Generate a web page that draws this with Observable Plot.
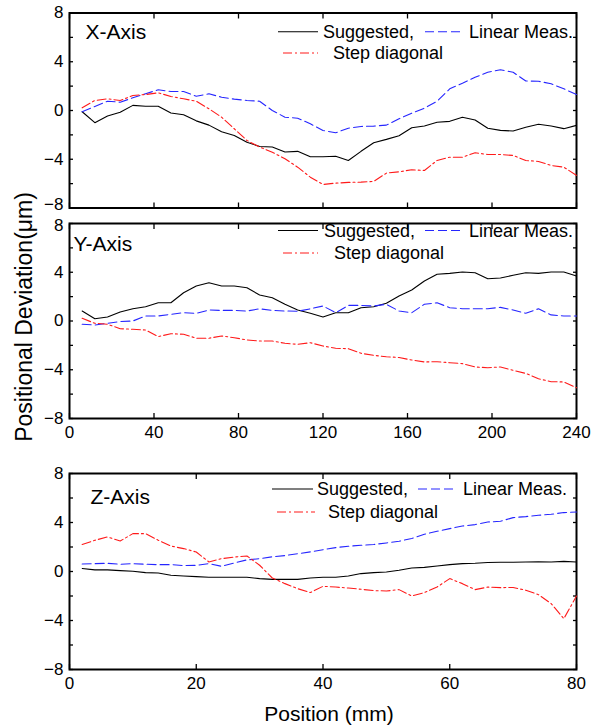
<!DOCTYPE html>
<html>
<head>
<meta charset="utf-8">
<script src="https://cdn.jsdelivr.net/npm/d3@7"></script>
<script src="https://cdn.jsdelivr.net/npm/@observablehq/plot@0.6"></script>
<style>
  html, body { margin: 0; padding: 0; background: #fff; }
  #wrap { position: relative; width: 604px; height: 727px; overflow: hidden; font-family: "Liberation Sans", Arial, sans-serif; }
</style>
</head>
<body>
<div id="wrap"></div>
<script>
// ---------- data ----------
const posXY = [6,12,18,24,30,36,42,48,54,60,66,72,78,84,90,96,102,108,114,120,126,132,138,144,150,156,162,168,174,180,186,192,198,204,210,216,222,228,234,240];
const posZ = [2,4,6,8,10,12,14,16,18,20,22,24,26,28,30,32,34,36,38,40,42,44,46,48,50,52,54,56,58,60,62,64,66,68,70,72,74,76,78,80];

const seriesNames = ["Suggested,", "Linear Meas.", "Step diagonal"];
const panelNames = ["X-Axis", "Y-Axis", "Z-Axis"];

const xSuggested = [-0.1,-1.0,-0.45,-0.15,0.42,0.35,0.35,-0.2,-0.35,-0.85,-1.2,-1.75,-2.05,-2.6,-2.95,-3.0,-3.4,-3.35,-3.8,-3.8,-3.75,-4.1,-3.35,-2.64,-2.37,-2.07,-1.41,-1.27,-0.97,-0.89,-0.56,-0.78,-1.46,-1.63,-1.68,-1.38,-1.13,-1.27,-1.49,-1.22];
const xLinear = [-0.1,0.33,0.76,0.68,1.04,1.37,1.7,1.56,1.56,1.17,1.37,1.09,0.93,0.82,0.76,0.0,-0.55,-0.63,-1.09,-1.64,-1.83,-1.45,-1.31,-1.28,-1.2,-0.68,-0.22,0.19,0.76,1.78,2.24,2.73,3.14,3.34,3.14,2.42,2.4,2.19,1.78,1.31];
const xStep = [0.22,0.82,0.96,0.82,1.23,1.31,1.45,1.15,0.96,0.76,0.14,-0.55,-1.5,-2.46,-3.0,-3.42,-3.96,-4.65,-5.47,-6.07,-5.96,-5.9,-5.88,-5.82,-5.14,-5.03,-4.86,-4.92,-4.1,-3.83,-3.83,-3.47,-3.61,-3.61,-3.69,-4.1,-4.18,-4.51,-4.65,-5.33];

const ySuggested = [0.82,0.19,0.33,0.74,1.01,1.17,1.5,1.5,2.32,2.87,3.14,2.87,2.87,2.73,2.13,1.91,1.37,0.9,0.63,0.33,0.68,0.68,1.09,1.17,1.45,2.05,2.54,3.28,3.83,3.91,4.02,3.96,3.47,3.53,3.75,3.96,3.91,4.02,4.02,3.69];
const yLinear = [-0.27,-0.33,-0.19,-0.05,0.0,0.41,0.41,0.55,0.68,0.63,0.9,0.87,0.87,0.82,1.0,0.87,0.82,0.8,1.0,1.23,0.68,1.28,1.28,1.23,1.37,0.82,0.68,1.37,1.5,1.09,1.01,1.01,1.01,1.12,0.9,0.63,1.0,0.5,0.41,0.41];
const yStep = [0.22,-0.19,-0.27,-0.63,-0.68,-0.74,-1.28,-1.04,-1.09,-1.41,-1.41,-1.23,-1.37,-1.56,-1.64,-1.64,-1.83,-1.91,-1.78,-2.05,-2.24,-2.27,-2.65,-2.82,-2.93,-3.0,-3.2,-3.36,-3.34,-3.42,-3.5,-3.77,-3.83,-3.77,-4.05,-4.3,-4.74,-4.98,-5.0,-5.47];

const zSuggested = [0.24,0.13,0.13,0.07,0.02,-0.09,-0.12,-0.31,-0.37,-0.42,-0.47,-0.47,-0.47,-0.47,-0.58,-0.64,-0.64,-0.64,-0.53,-0.47,-0.47,-0.37,-0.17,-0.09,-0.04,0.1,0.29,0.34,0.45,0.56,0.64,0.67,0.73,0.75,0.75,0.78,0.8,0.78,0.83,0.78];
const zLinear = [0.61,0.64,0.67,0.59,0.64,0.59,0.56,0.56,0.48,0.5,0.64,0.42,0.7,0.95,1.05,1.2,1.3,1.45,1.6,1.78,1.95,2.06,2.14,2.2,2.33,2.47,2.69,3.04,3.28,3.5,3.71,3.83,4.04,4.1,4.4,4.48,4.59,4.67,4.81,4.86];
const zStep = [2.2,2.55,2.82,2.49,3.09,3.09,2.55,2.08,1.87,1.59,0.78,1.05,1.18,1.27,0.51,-0.53,-0.99,-1.4,-1.72,-1.21,-1.27,-1.35,-1.45,-1.56,-1.59,-1.48,-2.0,-1.72,-1.27,-0.58,-0.99,-1.48,-1.27,-1.32,-1.3,-1.53,-1.89,-2.62,-3.85,-2.0];

const yTickLabels = [-4,0,4];
const yTickMin = [-8];
const yTickMax = [8];
const yMinorTicks = [-8,-6,-4,-2,0,2,4,6,8];
const xTicksXY = [0,40,80,120,160,200,240];
const xTicksZ = [0,20,40,60,80];

const yTitle = "Positional Deviation(\u03BCm)";
const xTitle = "Position (mm)";

// ---------- styles ----------
const colors = ["#000000", "#2626ff", "#ff1a1a"];
const dashes = [null, "9,4", "9,3,2,3"];
const FONT = "'Liberation Sans', Arial, sans-serif";

function rows(pos, vals) { return pos.map((x, i) => ({x, y: vals[i]})); }

function panel({pos, series, xDomain, xTicks, xLabels, name, svgTop, height, marginTop, marginBottom, labelDx, labelDy, dyMin = 0, dyMax = 0}) {
  const marks = [
    Plot.frame({stroke: "black", strokeWidth: 2}),
    Plot.axisY({anchor: "left", ticks: yTickLabels, tickSize: 0, tickPadding: 6, fontSize: 17}),
    Plot.axisY({anchor: "left", ticks: yTickMin, tickSize: 0, tickPadding: 6, fontSize: 17, dy: dyMin}),
    Plot.axisY({anchor: "left", ticks: yTickMax, tickSize: 0, tickPadding: 6, fontSize: 17, dy: dyMax}),
    Plot.axisY({anchor: "left", ticks: yMinorTicks, tickSize: -4, tickFormat: () => "", strokeWidth: 1.3}),
    Plot.axisY({anchor: "right", ticks: yMinorTicks, tickSize: -4, tickFormat: () => "", strokeWidth: 1.3}),
    Plot.axisX({anchor: "bottom", ticks: xTicks, tickSize: -5, tickFormat: xLabels ? d => String(d) : () => "", tickPadding: 12, fontSize: 17, strokeWidth: 1.3}),
    Plot.axisX({anchor: "top", ticks: xTicks, tickSize: -5, tickFormat: () => "", strokeWidth: 1.3}),
    ...series.map((vals, i) => Plot.line(rows(pos, vals), {x: "x", y: "y", stroke: colors[i], strokeWidth: 1.1, strokeDasharray: dashes[i]})),
    Plot.text([name], {frameAnchor: "top-left", text: d => d, dx: labelDx, dy: labelDy, textAnchor: "start", lineAnchor: "middle", fontSize: 21, fill: "black"})
  ];
  const svg = Plot.plot({
    width: 604, height, marginLeft: 69, marginRight: 28, marginTop, marginBottom,
    style: {fontFamily: FONT, background: "transparent", color: "black", overflow: "visible"},
    x: {domain: xDomain, label: null},
    y: {domain: [-8, 8], label: null},
    marks
  });
  svg.style.position = "absolute";
  svg.style.top = svgTop + "px";
  svg.style.left = "0px";
  return svg;
}

const wrap = document.getElementById("wrap");
wrap.appendChild(panel({pos: posXY, series: [xSuggested, xLinear, xStep], xDomain: [0, 240], xTicks: xTicksXY, xLabels: false, name: panelNames[0],
  svgTop: 0, height: 215, marginTop: 12.5, marginBottom: 7.5, labelDx: 16, labelDy: 19, dyMin: -3}));
wrap.appendChild(panel({pos: posXY, series: [ySuggested, yLinear, yStep], xDomain: [0, 240], xTicks: xTicksXY, xLabels: true, name: panelNames[1],
  svgTop: 212.5, height: 240, marginTop: 10, marginBottom: 35, labelDx: 4, labelDy: 20.5, dyMax: 2}));
wrap.appendChild(panel({pos: posZ, series: [zSuggested, zLinear, zStep], xDomain: [0, 80], xTicks: xTicksZ, xLabels: true, name: panelNames[2],
  svgTop: 461, height: 245, marginTop: 12, marginBottom: 37, labelDx: 21, labelDy: 24}));

// ---------- legends and titles (overlay) ----------
const ns = "http://www.w3.org/2000/svg";
const ov = document.createElementNS(ns, "svg");
ov.setAttribute("width", 604); ov.setAttribute("height", 727);
ov.style.position = "absolute"; ov.style.top = "0px"; ov.style.left = "0px";
ov.setAttribute("font-family", FONT);
wrap.appendChild(ov);

function add(tag, attrs, text) {
  const el = document.createElementNS(ns, tag);
  for (const k in attrs) el.setAttribute(k, attrs[k]);
  if (text != null) el.textContent = text;
  ov.appendChild(el);
  return el;
}

const legends = [
  {r1: 31.7, r2: 53, s1: [278, 318], t1: 323, s2: [425, 463], t2: 469, s3: [283, 318], t3: 333},
  {r1: 230.5, r2: 253, s1: [278, 318], t1: 324, s2: [425, 463], t2: 469, s3: [283, 318], t3: 334},
  {r1: 489, r2: 512, s1: [272, 313], t1: 317, s2: [418, 457], t2: 463, s3: [277, 315], t3: 328}
];
for (const L of legends) {
  const samples = [[L.s1, L.r1, L.t1], [L.s2, L.r1, L.t2], [L.s3, L.r2, L.t3]];
  samples.forEach(([s, yy, tx], i) => {
    const ln = add("line", {x1: s[0], x2: s[1], y1: yy, y2: yy, stroke: colors[i], "stroke-width": 1.1});
    if (dashes[i]) ln.setAttribute("stroke-dasharray", dashes[i]);
    add("text", {x: tx, y: yy, "dominant-baseline": "central", "font-size": 18, fill: "black"}, seriesNames[i]);
  });
}

add("text", {x: 0, y: 0, transform: "translate(24,317) rotate(-90)", "text-anchor": "middle", "dominant-baseline": "central", "font-size": 23, fill: "black"}, yTitle);
add("text", {x: 329, y: 713, "text-anchor": "middle", "dominant-baseline": "central", "font-size": 21, fill: "black"}, xTitle);
</script>
</body>
</html>
